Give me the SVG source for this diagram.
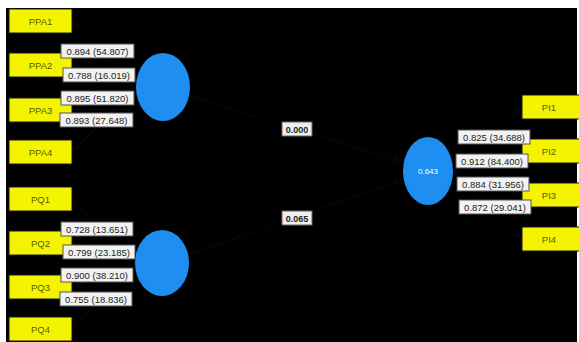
<svg xmlns="http://www.w3.org/2000/svg" width="579" height="342" viewBox="0 0 579 342">
<style>
.ind rect{fill:#f4f400;stroke:#1a1a1a;stroke-width:1}
.ind text{font-family:"Liberation Sans",Arial,sans-serif;font-size:9.5px;fill:#5a5a10;text-anchor:middle}
.lv{fill:#1e8ff0}
.lvt{font-family:"Liberation Sans",Arial,sans-serif;font-size:8px;fill:#ffffff;text-anchor:middle}
.lab rect{fill:#f2f2f2;stroke:#555;stroke-width:1}
.lab text{font-family:"Liberation Sans",Arial,sans-serif;font-size:9.5px;fill:#222;text-anchor:middle}
.path rect{fill:#eeeeee;stroke:#666;stroke-width:1}
.path text{font-family:"Liberation Sans",Arial,sans-serif;font-size:9px;font-weight:bold;fill:#222;text-anchor:middle}
.conn line{stroke:#070707;stroke-width:1.5}
</style>
<defs>
<marker id="ah" viewBox="0 0 10 10" refX="10" refY="5" markerWidth="6" markerHeight="6" orient="auto">
<path d="M0,0 L10,5 L0,10 z" fill="#070707"/>
</marker>
</defs>
<rect x="0" y="0" width="579" height="342" fill="#ffffff"/>
<rect x="6" y="8" width="571" height="334" fill="#000000"/>

<g id="connectors" class="conn">
<line x1="137" y1="87" x2="72" y2="21" marker-end="url(#ah)"/>
<line x1="137" y1="87" x2="72" y2="65" marker-end="url(#ah)"/>
<line x1="137" y1="87" x2="72" y2="110" marker-end="url(#ah)"/>
<line x1="137" y1="87" x2="72" y2="152" marker-end="url(#ah)"/>
<line x1="136" y1="263" x2="72" y2="199" marker-end="url(#ah)"/>
<line x1="136" y1="263" x2="72" y2="243" marker-end="url(#ah)"/>
<line x1="136" y1="263" x2="72" y2="287" marker-end="url(#ah)"/>
<line x1="136" y1="263" x2="72" y2="329" marker-end="url(#ah)"/>
<line x1="453" y1="171" x2="522" y2="107" marker-end="url(#ah)"/>
<line x1="453" y1="171" x2="522" y2="151" marker-end="url(#ah)"/>
<line x1="453" y1="171" x2="522" y2="195" marker-end="url(#ah)"/>
<line x1="453" y1="171" x2="522" y2="239" marker-end="url(#ah)"/>
<line x1="190" y1="96" x2="403" y2="162" marker-end="url(#ah)"/>
<line x1="189" y1="254" x2="403" y2="180" marker-end="url(#ah)"/>
</g>

<g id="PPA1" class="ind"><rect x="9" y="9" width="63" height="24"/><text x="40.5" y="24.5">PPA1</text></g>
<g id="PPA2" class="ind"><rect x="9" y="53" width="63" height="24"/><text x="40.5" y="68.5">PPA2</text></g>
<g id="PPA3" class="ind"><rect x="9" y="98" width="63" height="24"/><text x="40.5" y="113.5">PPA3</text></g>
<g id="PPA4" class="ind"><rect x="9" y="140" width="63" height="24"/><text x="40.5" y="155.5">PPA4</text></g>
<g id="PQ1" class="ind"><rect x="9" y="187" width="63" height="24"/><text x="40.5" y="202.5">PQ1</text></g>
<g id="PQ2" class="ind"><rect x="9" y="231" width="63" height="24"/><text x="40.5" y="246.5">PQ2</text></g>
<g id="PQ3" class="ind"><rect x="9" y="275" width="63" height="24"/><text x="40.5" y="290.5">PQ3</text></g>
<g id="PQ4" class="ind"><rect x="9" y="317" width="63" height="24"/><text x="40.5" y="332.5">PQ4</text></g>
<g id="PI1" class="ind"><rect x="522" y="95" width="60" height="24"/><text x="549" y="110.5">PI1</text></g>
<g id="PI2" class="ind"><rect x="522" y="139" width="60" height="24"/><text x="549" y="154.5">PI2</text></g>
<g id="PI3" class="ind"><rect x="522" y="183" width="60" height="24"/><text x="549" y="198.5">PI3</text></g>
<g id="PI4" class="ind"><rect x="522" y="227" width="60" height="24"/><text x="549" y="242.5">PI4</text></g>

<g id="PPA"><ellipse class="lv" cx="163" cy="87" rx="27" ry="34"/></g>
<g id="PQ"><ellipse class="lv" cx="162" cy="263" rx="27" ry="33"/></g>
<g id="PI"><ellipse class="lv" cx="428" cy="171" rx="25" ry="34"/><text class="lvt" x="428" y="174">0.643</text></g>

<g id="loadings">
<g class="lab"><rect x="61" y="44" width="73" height="14"/><text x="97.5" y="54.5">0.894 (54.807)</text></g>
<g class="lab"><rect x="63" y="68" width="72" height="14"/><text x="99" y="78.5">0.788 (16.019)</text></g>
<g class="lab"><rect x="61" y="91" width="73" height="14"/><text x="97.5" y="101.5">0.895 (51.820)</text></g>
<g class="lab"><rect x="60" y="113" width="73" height="14"/><text x="96.5" y="123.5">0.893 (27.648)</text></g>
<g class="lab"><rect x="61" y="222" width="72" height="14"/><text x="97" y="232.5">0.728 (13.651)</text></g>
<g class="lab"><rect x="63" y="245" width="72" height="14"/><text x="99" y="255.5">0.799 (23.185)</text></g>
<g class="lab"><rect x="61" y="268" width="72" height="14"/><text x="97" y="278.5">0.900 (38.210)</text></g>
<g class="lab"><rect x="60" y="292" width="72" height="14"/><text x="96" y="302.5">0.755 (18.836)</text></g>
<g class="lab"><rect x="458" y="130" width="72" height="14"/><text x="494" y="140.5">0.825 (34.688)</text></g>
<g class="lab"><rect x="456" y="154" width="72" height="14"/><text x="492" y="164.5">0.912 (84.400)</text></g>
<g class="lab"><rect x="457" y="177" width="72" height="14"/><text x="493" y="187.5">0.884 (31.956)</text></g>
<g class="lab"><rect x="459" y="200" width="72" height="14"/><text x="495" y="210.5">0.872 (29.041)</text></g>
</g>

<g id="paths">
<g class="path"><rect x="282" y="122" width="30" height="14"/><text x="297" y="132.5">0.000</text></g>
<g class="path"><rect x="282" y="211" width="30" height="14"/><text x="297" y="221.5">0.065</text></g>
</g>
</svg>
